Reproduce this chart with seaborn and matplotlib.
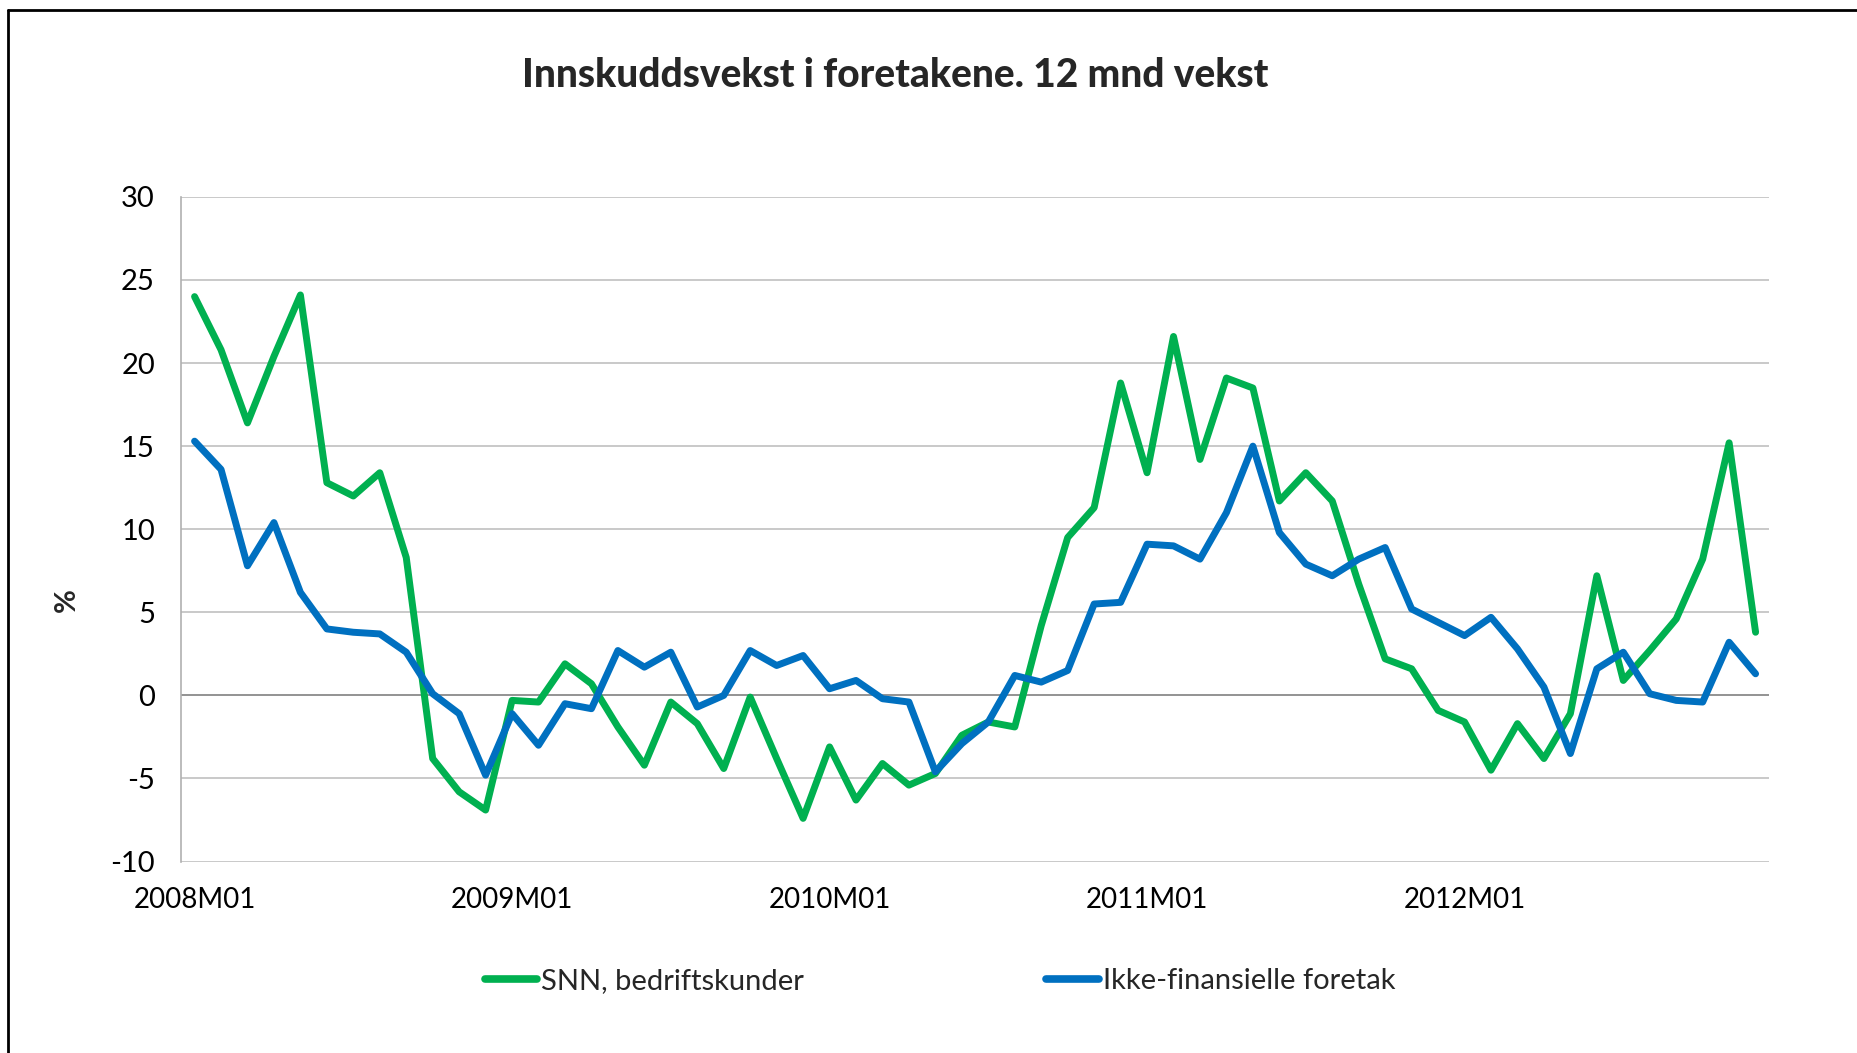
import numpy as np
import pandas as pd
import matplotlib
matplotlib.use('Agg')
import matplotlib.pyplot as plt
import seaborn as sns
from matplotlib.lines import Line2D

# 12 mnd vekst, 2008M01 - 2012M12
snn = [24.0, 20.8, 16.4, 20.4, 24.1, 12.8, 12.0, 13.4, 8.3, -3.8,
       -5.8, -6.9, -0.3, -0.4, 1.9, 0.7, -1.9, -4.2, -0.4, -1.7,
       -4.4, -0.1, -3.8, -7.4, -3.1, -6.3, -4.1, -5.4, -4.7, -2.4,
       -1.6, -1.9, 4.2, 9.5, 11.3, 18.8, 13.4, 21.6, 14.2, 19.1,
       18.5, 11.7, 13.4, 11.7, 6.7, 2.2, 1.6, -0.9, -1.6, -4.5,
       -1.7, -3.8, -1.1, 7.2, 0.9, 2.7, 4.6, 8.2, 15.2, 3.8]
ikke_fin = [15.3, 13.6, 7.8, 10.4, 6.2, 4.0, 3.8, 3.7, 2.6, 0.1,
            -1.1, -4.8, -1.1, -3.0, -0.5, -0.8, 2.7, 1.7, 2.6, -0.7,
            0.0, 2.7, 1.8, 2.4, 0.4, 0.9, -0.2, -0.4, -4.6, -2.9,
            -1.6, 1.2, 0.8, 1.5, 5.5, 5.6, 9.1, 9.0, 8.2, 11.0,
            15.0, 9.8, 7.9, 7.2, 8.2, 8.9, 5.2, 4.4, 3.6, 4.7,
            2.8, 0.5, -3.5, 1.6, 2.6, 0.1, -0.3, -0.4, 3.2, 1.3]
tick_labels = ['2008M01', '2009M01', '2010M01', '2011M01', '2012M01']
series_names = ['SNN, bedriftskunder', 'Ikke-finansielle foretak']
colors = ['#00B050', '#0070C0']

months = np.arange(len(snn))

sns.set_style('white')
plt.rcParams['font.family'] = ['Lato', 'DejaVu Sans']
plt.rcParams['axes.unicode_minus'] = False

fig = plt.figure(figsize=(18.58, 10.53), dpi=100)
ax = fig.add_axes([0.0976, 0.1818, 0.8544, 0.6312])

sns.lineplot(x=months, y=snn, color=colors[0], lw=5, label=series_names[0],
             ax=ax, solid_joinstyle='round', solid_capstyle='round')
sns.lineplot(x=months, y=ikke_fin, color=colors[1], lw=5, label=series_names[1],
             ax=ax, solid_joinstyle='round', solid_capstyle='round')

ax.set_xlim(-0.5, len(snn) - 0.5)
ax.set_ylim(-10, 30)
ax.set_yticks(range(-10, 31, 5))
ax.set_xticks([0, 12, 24, 36, 48])
ax.set_xticklabels(tick_labels)
ax.tick_params(axis='both', length=0, labelsize=21, colors='black')
ax.tick_params(axis='x', labelsize=20, pad=18)
ax.tick_params(axis='y', pad=19)

for y in range(-10, 31, 5):
    if y != 0:
        ax.axhline(y, color='#C0C0C0', lw=1.2, zorder=0)
ax.axhline(0, color='#808080', lw=1.2, zorder=1)

for side in ['top', 'right', 'bottom']:
    ax.spines[side].set_visible(False)
ax.spines['left'].set_color('#B0B0B0')
ax.spines['left'].set_linewidth(1.2)
ax.set_xlabel('')
ax.set_ylabel('')

fig.text(0.482, 0.928, 'Innskuddsvekst i foretakene. 12 mnd vekst',
         ha='center', va='center', fontsize=28, fontweight='black')
fig.text(0.036, 0.43, '%', rotation=90, ha='center', va='center',
         fontsize=21, fontweight='bold')

ax.legend_.remove()
handles = [Line2D([0], [0], color=c, lw=5.5, solid_capstyle='round') for c in colors]
fig.legend(handles, series_names, loc='center', bbox_to_anchor=(0.506, 0.068),
           ncol=2, frameon=False, fontsize=21, handlelength=1.8,
           handletextpad=0.15, columnspacing=8.3)

# ramme rundt figuren
fig.add_artist(Line2D([0.0043, 1.0], [0.9905, 0.9905], color='black', lw=2,
                      transform=fig.transFigure))
fig.add_artist(Line2D([0.0043, 0.0043], [0.0, 0.9905], color='black', lw=2,
                      transform=fig.transFigure))

fig.savefig('out.png', dpi=100, facecolor='white')
